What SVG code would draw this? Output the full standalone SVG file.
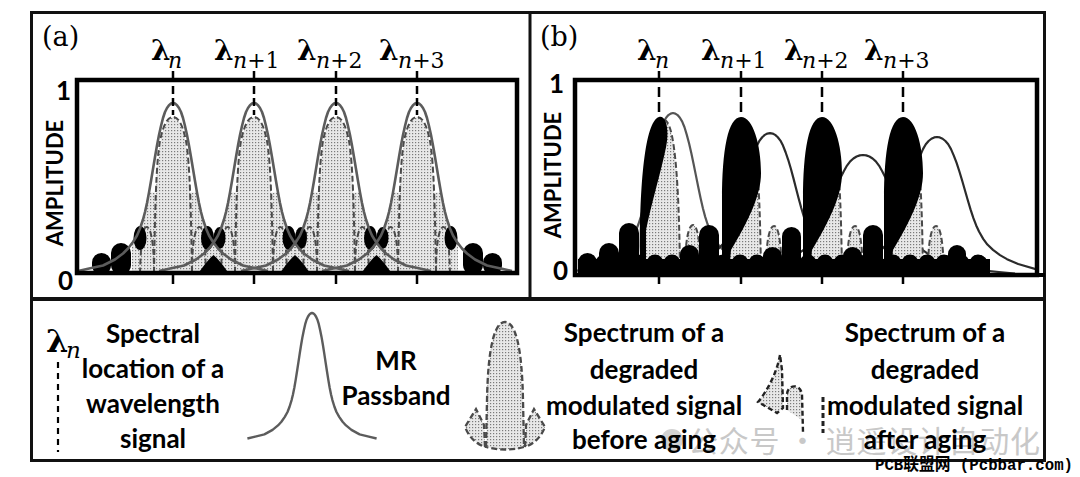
<svg xmlns="http://www.w3.org/2000/svg" width="1080" height="477" viewBox="0 0 1080 477">
<defs>
<style>
.frame{fill:none;stroke:#111;stroke-width:3}
.axbox{fill:none;stroke:#000;stroke-width:4.5}
.num{font-family:Lato,'Liberation Sans',sans-serif;font-weight:700;fill:#000;font-size:26px;text-anchor:end}
.amp{font-family:Lato,'Liberation Sans',sans-serif;font-weight:700;fill:#000;font-size:22px;text-anchor:middle}
.leg{font-family:Lato,'Liberation Sans',sans-serif;font-weight:700;font-size:26px;fill:#000;text-anchor:middle}
.lam{font-family:'DejaVu Serif',serif;font-weight:700;font-size:28px;fill:#000}
.sub{font-family:'DejaVu Serif',serif;font-size:22px;fill:#000}
.pl{font-family:'DejaVu Serif',serif;font-size:27px;fill:#000}
.it{font-style:italic}
.tick{stroke:#000;stroke-width:2.5;fill:none}
.dash{stroke:#000;stroke-width:2.5;stroke-dasharray:8 4;fill:none}
.dots{fill:url(#dots)}
.lobe{fill:none;stroke:#4a4a4a;stroke-width:2;stroke-dasharray:6 3}
.pbA{fill:none;stroke:#5c5c5c;stroke-width:2.6;stroke-linejoin:round}
.pbB{fill:none;stroke:#2b2b2b;stroke-width:2.2;stroke-linejoin:round}
.blk{fill:#000}
</style>
<pattern id="dots" width="3" height="3" patternUnits="userSpaceOnUse"><rect width="3" height="3" fill="#e8e8e8"/><rect x="1" y="1" width="1.2" height="1.2" fill="#7a7a7a"/></pattern>
<clipPath id="clipA"><rect x="79" y="82" width="436" height="189"/></clipPath>
<clipPath id="clipB"><rect x="577" y="82" width="458" height="191"/></clipPath>
<path id="pb" vector-effect="non-scaling-stroke" d="M-95,-2 L-85,-4.25 L-70,-7.5 L-58,-13.5 L-50,-19.5 L-45,-24.5 L-40,-31 L-36,-37.5 L-33,-44.5 L-30,-53.5 L-28,-61 L-26,-70 L-24,-80.5 L-22,-92 L-20,-104 L-18,-116 L-16,-127.5 L-14,-138 L-12,-147 L-10,-155 L-8,-161 L-6,-165 L-4,-167.8 L-2,-169.4 L0,-170 L2,-169.4 L4,-167.8 L6,-165 L8,-161 L10,-155 L12,-147 L14,-138 L16,-127.5 L18,-116 L20,-104 L22,-92 L24,-80.5 L26,-70 L28,-61 L30,-53.5 L33,-44.5 L36,-37.5 L40,-31 L45,-24.5 L50,-19.5 L58,-13.5 L70,-7.5 L85,-4.25 L95,-2"/>
<g id="Afill">
<path class="dots" d="M-41,0 L-41,-30 L-40,-31 L-36,-37.5 L-33,-44.5 L-30,-53.5 L-28,-61 L-26,-70 L-24,-80.5 L-22,-92 L-20,-104 L-18,-116 L-16,-127.5 L-14,-138 L-12,-147 L-10,-155 L-8,-161 L-6,-165 L-4,-167.8 L-2,-169.4 L0,-170 L2,-169.4 L4,-167.8 L6,-165 L8,-161 L10,-155 L12,-147 L14,-138 L16,-127.5 L18,-116 L20,-104 L22,-92 L24,-80.5 L26,-70 L28,-61 L30,-53.5 L33,-44.5 L36,-37.5 L40,-31 L41,-30 L41,0 Z"/>
<path fill="#fff" d="M-24,-80.5 L-22,-92 L-20,-104 L-18,-116 L-16,-127.5 L-14,-138 L-12,-147 L-10,-155 L-8,-161 L-6,-165 L-4,-167.8 L-2,-169.4 L0,-170 L2,-169.4 L4,-167.8 L6,-165 L8,-161 L10,-155 L12,-147 L14,-138 L16,-127.5 L18,-116 L20,-104 L22,-92 L24,-80.5 L17,-80.5 L16.4,-95 L15.5,-108 L14,-121 L12,-134 L9,-146 L5,-153.5 L0,-156 L-5,-153.5 L-9,-146 L-12,-134 L-14,-121 L-15.5,-108 L-16.4,-95 L-17,-80.5 Z"/>
<path class="lobe" d="M-19,0 C-18,-60 -17,-110 -13,-132 C-9,-152 -4,-156 0,-156 C4,-156 9,-152 13,-132 C17,-110 18,-60 19,0"/>
<path class="lobe" d="M-19,0 C-19,-35 -23,-46 -26.5,-46 C-30,-46 -32,-35 -33,0 M19,0 C19,-35 23,-46 26.5,-46 C30,-46 32,-35 33,0"/>
</g>
<g id="Xb"><ellipse cx="-6" cy="238" rx="6.5" ry="12"/><ellipse cx="6" cy="238" rx="6" ry="11"/></g>
<path id="Xt" d="M-15,273 Q-6,260 0,255 Q6,260 15,273 Z"/>
<path id="leaf" d="M-19,273 L-19,200 C-19,150 -13,117 0,117 C12,117 20,145 20,173 C20,195 8,220 -10,250 L-12,273 Z"/>
<g id="Bdot">
<path class="dots" d="M-19,273 C-19,190 -11,125 0,125 C12,125 19,180 20,273 Z"/>
<path class="lobe" d="M12,140 C17,160 19,200 20,273"/>
<path class="dots" d="M25,273 C25,238 29,226 33,226 C37,226 40,238 41,273 Z"/>
<path class="lobe" d="M25,273 C25,238 29,226 33,226 C37,226 40,238 41,273"/>
</g>
</defs>

<rect width="1080" height="477" fill="#fff"/>

<g id="frame">
<rect class="frame" x="31.5" y="12.5" width="1013" height="448"/>
<line x1="30" y1="299" x2="1046" y2="299" stroke="#111" stroke-width="4"/>
<line x1="530" y1="12" x2="530" y2="299" stroke="#111" stroke-width="3"/>
</g>

<g id="panel-a">
<text class="pl" x="42" y="46">(a)</text>
<text class="num" x="71" y="100">1</text>
<text class="num" x="73" y="290">0</text>
<text class="amp" transform="translate(63,183) rotate(-90)">AMPLITUDE</text>
<g clip-path="url(#clipA)">
<g class="blk">
<rect x="92" y="253" width="19" height="22" rx="9.5"/>
<rect x="111" y="243" width="20" height="32" rx="10"/>
<rect x="463" y="243" width="20" height="32" rx="10"/>
<rect x="483" y="253" width="19" height="22" rx="9.5"/>
</g>
<use href="#Afill" transform="translate(173,273)"/>
<use href="#Afill" transform="translate(254,273)"/>
<use href="#Afill" transform="translate(336,273)"/>
<use href="#Afill" transform="translate(417,273)"/>
<g class="blk">
<ellipse cx="140" cy="238" rx="6.5" ry="12"/>
<ellipse cx="451" cy="238" rx="6.5" ry="12"/>
<use href="#Xb" transform="translate(213.5,0)"/>
<use href="#Xb" transform="translate(295,0)"/>
<use href="#Xb" transform="translate(376.5,0)"/>
<use href="#Xt" transform="translate(213.5,0)"/>
<use href="#Xt" transform="translate(295,0)"/>
<use href="#Xt" transform="translate(376.5,0)"/>
</g>
<use href="#pb" class="pbA" transform="translate(173,273)"/>
<use href="#pb" class="pbA" transform="translate(254,273)"/>
<use href="#pb" class="pbA" transform="translate(336,273)"/>
<use href="#pb" class="pbA" transform="translate(417,273)"/>
</g>
<rect class="axbox" x="77" y="80" width="440" height="193"/>
<text class="lam" x="151" y="60">λ</text><text class="sub it" x="168" y="68">n</text>
<text class="lam" x="214" y="60">λ</text><text class="sub" x="233" y="68"><tspan class="it">n</tspan>+1</text>
<text class="lam" x="297" y="60">λ</text><text class="sub" x="316" y="68"><tspan class="it">n</tspan>+2</text>
<text class="lam" x="379" y="60">λ</text><text class="sub" x="398" y="68"><tspan class="it">n</tspan>+3</text>
</g>

<g id="panel-b">
<text class="pl" x="540" y="46">(b)</text>
<text class="num" x="564" y="93">1</text>
<text class="num" x="568" y="280">0</text>
<text class="amp" transform="translate(561,175) rotate(-90)">AMPLITUDE</text>
<g clip-path="url(#clipB)">
<use href="#pb" class="pbB" style="stroke:#555" transform="translate(673,275) scale(1.15,0.953)"/>
<use href="#pb" class="pbB" transform="translate(770,275) scale(1.3,0.835)"/>
<use href="#pb" class="pbB" transform="translate(863,275) scale(1.6,0.706)"/>
<use href="#pb" class="pbB" transform="translate(937,275) scale(1.4,0.812)"/>
<path class="dots" d="M642,273 C642,200 652,120 664,120 C674,120 679,175 680,273 Z"/>
<path class="lobe" d="M664,120 C674,120 679,175 680,273"/>
<path class="dots" d="M685,273 C685,238 689,225 693,225 C697,225 700,238 701,273 Z"/>
<path class="lobe" d="M685,273 C685,238 689,225 693,225 C697,225 700,238 701,273"/>
<use href="#Bdot" transform="translate(741,0)"/>
<use href="#Bdot" transform="translate(822,0)"/>
<use href="#Bdot" transform="translate(903,0)"/>
<g class="blk">
<rect x="578" y="259" width="412" height="16"/>
<circle cx="587" cy="263" r="8.5"/><circle cx="604" cy="263" r="8.5"/><circle cx="621" cy="263" r="8.5"/><circle cx="638" cy="263" r="8.5"/><circle cx="655" cy="263" r="8.5"/><circle cx="672" cy="263" r="8.5"/><circle cx="689" cy="263" r="8.5"/><circle cx="706" cy="263" r="8.5"/><circle cx="723" cy="263" r="8.5"/><circle cx="740" cy="263" r="8.5"/><circle cx="757" cy="263" r="8.5"/><circle cx="774" cy="263" r="8.5"/><circle cx="791" cy="263" r="8.5"/><circle cx="808" cy="263" r="8.5"/><circle cx="825" cy="263" r="8.5"/><circle cx="842" cy="263" r="8.5"/><circle cx="859" cy="263" r="8.5"/><circle cx="876" cy="263" r="8.5"/><circle cx="893" cy="263" r="8.5"/><circle cx="910" cy="263" r="8.5"/><circle cx="927" cy="263" r="8.5"/><circle cx="944" cy="263" r="8.5"/><circle cx="961" cy="263" r="8.5"/><circle cx="978" cy="263" r="8.5"/>
<rect x="578" y="253" width="19" height="22" rx="9.5"/>
<rect x="599" y="243" width="20" height="32" rx="10"/>
<rect x="619" y="223" width="20" height="52" rx="10"/>
<rect x="680" y="245" width="19" height="30" rx="9.5"/>
<rect x="699" y="225" width="20" height="50" rx="10"/>
<rect x="763" y="247" width="19" height="28" rx="9.5"/>
<rect x="782" y="227" width="19" height="48" rx="9.5"/>
<rect x="843" y="247" width="19" height="28" rx="9.5"/>
<rect x="863" y="225" width="20" height="50" rx="10"/>
<rect x="948" y="245" width="18" height="30" rx="9"/>
<rect x="970" y="255" width="18" height="20" rx="9"/>
<path d="M640,273 C639,200 643,122 659,117 C667,115 670,132 665,152 C660,175 651,205 646,230 L646,273 Z"/>
<use href="#leaf" transform="translate(741,0)"/>
<use href="#leaf" transform="translate(822,0)"/>
<use href="#leaf" transform="translate(903,0)"/>
</g>
</g>
<rect class="axbox" x="575" y="80" width="462" height="195"/>
<line x1="1037" y1="275" x2="1045" y2="275" stroke="#000" stroke-width="4"/>
<text class="lam" x="637" y="60">λ</text><text class="sub it" x="655" y="68">n</text>
<text class="lam" x="701" y="60">λ</text><text class="sub" x="720" y="68"><tspan class="it">n</tspan>+1</text>
<text class="lam" x="784" y="60">λ</text><text class="sub" x="802" y="68"><tspan class="it">n</tspan>+2</text>
<text class="lam" x="864" y="60">λ</text><text class="sub" x="883" y="68"><tspan class="it">n</tspan>+3</text>
</g>

<g id="connectors">
<path class="tick" d="M173,71 V80 M254,71 V80 M336,71 V80 M417,71 V80 M173,274 V284 M254,274 V284 M336,274 V284 M417,274 V284"/>
<path class="dash" d="M173,86 V115 M254,86 V115 M336,86 V115 M417,86 V115"/>
<path class="tick" d="M659,71 V80 M741,71 V80 M822,71 V80 M903,71 V80 M659,276 V284 M741,276 V284 M822,276 V284 M903,276 V284"/>
<path class="dash" d="M659,87 V117 M741,87 V117 M822,87 V117 M903,87 V117" style="stroke-dasharray:10 5"/>
</g>

<g id="legend-lambda">
<text class="lam" x="46" y="352" style="font-size:32px">λ</text>
<text class="sub it" x="66" y="358" style="font-size:23px">n</text>
<path class="dash" d="M58,362 V452" style="stroke-width:2.2;stroke-dasharray:6 5"/>
<text class="leg" x="153" y="343">Spectral</text>
<text class="leg" x="153" y="378">location of a</text>
<text class="leg" x="153" y="413">wavelength</text>
<text class="leg" x="153" y="448">signal</text>
</g>

<g id="legend-passband">
<use href="#pb" class="pbA" style="stroke-width:2.4" transform="translate(312,440) scale(0.68,0.747)"/>
<text class="leg" x="396" y="370">MR</text>
<text class="leg" x="396" y="405">Passband</text>
</g>

<g id="watermark">
<circle cx="672" cy="440" r="11" fill="#d2d2d2"/>
<text x="688" y="452" font-family="'Noto Sans CJK SC',sans-serif" font-size="30" fill="#c8c8c8" textLength="352" lengthAdjust="spacing">公众号 · 逍遥设计自动化</text>
</g>

<g id="legend-before">
<path class="dots" d="M486,447 L487,400 C488,345 495,322 505,322 C515,322 522,345 523,400 L524,447 Q505,452 486,447 Z"/>
<path class="dots" d="M485,447 L484,425 L476,409 L465,427 Q471,442 485,447 Z"/>
<path class="dots" d="M525,447 L526,425 L534,409 L545,427 Q539,442 525,447 Z"/>
<g class="lobe" style="stroke-width:2.3">
<path d="M486,447 L487,400 C488,345 495,322 505,322 C515,322 522,345 523,400 L524,447 Q505,452 486,447 Z"/>
<path d="M485,447 L484,425 L476,409 L465,427 Q471,442 485,447"/>
<path d="M525,447 L526,425 L534,409 L545,427 Q539,442 525,447"/>
</g>
<text class="leg" x="644" y="342">Spectrum of a</text>
<text class="leg" x="644" y="379">degraded</text>
<text class="leg" x="644" y="415">modulated signal</text>
<text class="leg" x="644" y="449">before aging</text>
</g>

<g id="legend-after">
<path class="dots" d="M780,355 C777,372 768,390 758,402 L777,413 L783,408 L782,370 Z"/>
<path class="dots" d="M787,410 L787,395 C787,384 801,383 802,395 L802,420 Z"/>
<g class="lobe" style="stroke:#222;stroke-width:2.4;stroke-dasharray:5 3">
<path d="M780,355 C777,372 768,390 758,402 L777,413 L783,408 L782,370 Z"/>
<path d="M787,410 L787,395 C787,384 801,383 802,395 L803,432"/>
<path d="M823,397 L823,433" style="stroke-width:3"/>
</g>
<text class="leg" x="925" y="342">Spectrum of a</text>
<text class="leg" x="925" y="379">degraded</text>
<text class="leg" x="925" y="415">modulated signal</text>
<text class="leg" x="925" y="449">after aging</text>
</g>

<text x="875" y="470" font-family="'Liberation Mono','Noto Sans CJK SC',monospace" font-weight="700" font-size="17" fill="#000" textLength="198" lengthAdjust="spacingAndGlyphs">PCB联盟网 (Pcbbar.com)</text>
</svg>
